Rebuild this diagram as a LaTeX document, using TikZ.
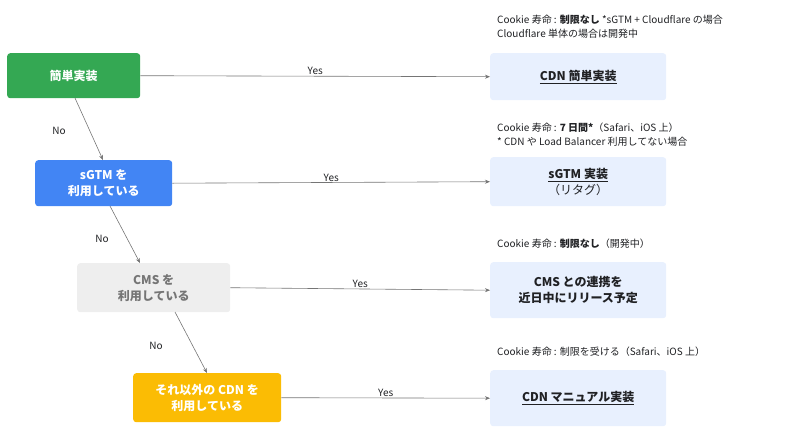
\documentclass[tikz,border=0pt]{standalone}
\usepackage{fontspec}
\setmainfont{Noto Sans CJK JP}
\usetikzlibrary{arrows.meta}
\definecolor{gg}{HTML}{34A853}
\definecolor{bb}{HTML}{4285F4}
\definecolor{yy}{HTML}{FBBC04}
\definecolor{lg}{HTML}{EEEEEE}
\definecolor{lb}{HTML}{E8F0FE}
\definecolor{tx}{HTML}{202124}
\definecolor{ln}{HTML}{757575}
\begin{document}
\begin{tikzpicture}[x=1pt,y=-1pt,
  lbox/.style={rounded corners=3pt,font=\fontsize{12}{16}\selectfont\bfseries,align=center,anchor=north west,inner sep=0pt},
  rbox/.style={lbox,fill=lb,text=tx,minimum width=176pt},
  ann/.style={anchor=west,font=\fontsize{10}{14}\selectfont,text=tx,align=left,inner sep=0pt},
  con/.style={draw=ln,line width=0.6pt,-{Stealth[length=5pt,width=4pt]}},
  lab/.style={font=\fontsize{10}{12}\selectfont,text=tx,inner sep=1pt}]
\useasboundingbox (0,0) rectangle (800,429);
\node[lbox,fill=gg,text=white,minimum width=133pt,minimum height=45pt] (a) at (7,53) {簡単実装};
\node[lbox,fill=bb,text=white,minimum width=137pt,minimum height=46pt] (b) at (35,160) {sGTM を\\利用している};
\node[lbox,fill=lg,text=ln,minimum width=153pt,minimum height=49pt] (c) at (77,263) {CMS を\\利用している};
\node[lbox,fill=yy,text=white,minimum width=148pt,minimum height=49pt] (d) at (133,373) {それ以外の CDN を\\利用している};
\node[rbox,minimum height=47pt] (ra) at (490,53) {\underline{CDN 簡単実装}};
\node[rbox,minimum height=49pt] (rb) at (490,157) {\underline{sGTM 実装}\\{\mdseries（リタグ）}};
\node[rbox,minimum height=56pt] (rc) at (490,262) {CMS との連携を\\近日中にリリース予定};
\node[rbox,minimum height=56pt] (rd) at (490,370) {\underline{CDN マニュアル実装}};
\node[ann] (na) at (497,27) {Cookie 寿命 : \textbf{制限なし} *sGTM + Cloudflare の場合\\Cloudflare 単体の場合は開発中};
\node[ann] (nb) at (497,135) {Cookie 寿命 : \textbf{7 日間*}（Safari、iOS 上）\\* CDN や Load Balancer 利用してない場合};
\node[ann] (nc) at (497,244) {Cookie 寿命 : \textbf{制限なし}（開発中）};
\node[ann] (nd) at (497,352) {Cookie 寿命 : 制限を受ける（Safari、iOS 上）};
\draw[con] (a.east) -- node[lab,above]{Yes} (ra.west);
\draw[con] (b.east) -- node[lab,above]{Yes} (rb.west);
\draw[con] (c.east) -- node[lab,above]{Yes} (rc.west);
\draw[con] (d.east) -- node[lab,above]{Yes} (rd.west);
\coordinate (a1) at (75,98); \coordinate (b1) at (103,160);
\coordinate (b2) at (110,206); \coordinate (c1) at (140,263);
\coordinate (c2) at (175,312); \coordinate (d1) at (207,373);
\draw[con] (a1) -- (b1);
\draw[con] (b2) -- (c1);
\draw[con] (c2) -- (d1);
\node[lab] (n1) at (59,131) {No};
\node[lab] (n2) at (102,239) {No};
\node[lab] (n3) at (156,346) {No};
\end{tikzpicture}
\end{document}
